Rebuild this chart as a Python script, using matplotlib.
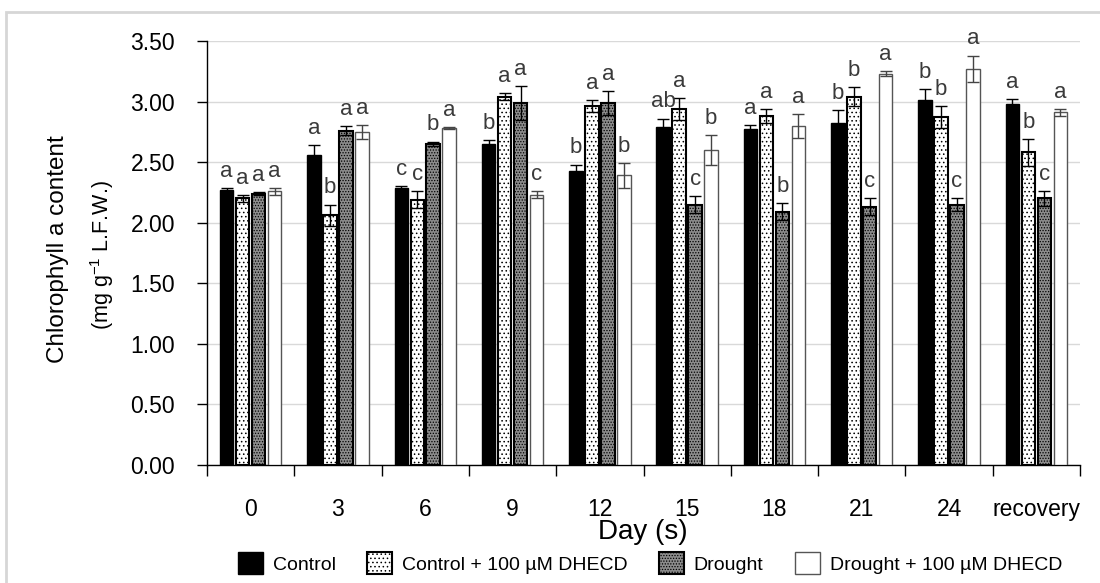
import matplotlib
matplotlib.use("Agg")
import matplotlib.pyplot as plt
import numpy as np
from matplotlib.patches import Rectangle, Patch

plt.rcParams['font.family'] = ['Liberation Sans', 'DejaVu Sans']
plt.rcParams['mathtext.fontset'] = 'custom'
plt.rcParams['mathtext.rm'] = 'Liberation Sans'
plt.rcParams['hatch.linewidth'] = 0.6

categories = ['0', '3', '6', '9', '12', '15', '18', '21', '24', 'recovery']
series_names = ['Control', 'Control + 100 µM DHECD', 'Drought', 'Drought + 100 µM DHECD']

control      = [2.27, 2.56, 2.29, 2.65, 2.43, 2.79, 2.77, 2.82, 3.01, 2.98]
control_dh   = [2.20, 2.06, 2.19, 3.04, 2.96, 2.94, 2.88, 3.04, 2.87, 2.58]
drought      = [2.24, 2.76, 2.65, 2.99, 2.99, 2.15, 2.09, 2.13, 2.15, 2.20]
drought_dh   = [2.26, 2.75, 2.78, 2.23, 2.39, 2.60, 2.80, 3.23, 3.27, 2.91]

control_err    = [0.02, 0.08, 0.01, 0.03, 0.05, 0.07, 0.04, 0.11, 0.09, 0.04]
control_dh_err = [0.03, 0.09, 0.07, 0.03, 0.05, 0.09, 0.06, 0.08, 0.09, 0.11]
drought_err    = [0.01, 0.04, 0.02, 0.14, 0.10, 0.07, 0.07, 0.07, 0.05, 0.06]
drought_dh_err = [0.03, 0.06, 0.01, 0.03, 0.10, 0.12, 0.10, 0.02, 0.11, 0.03]

control_let    = ['a', 'a', 'c', 'b', 'b', 'ab', 'a', 'b', 'b', 'a']
control_dh_let = ['a', 'b', 'c', 'a', 'a', 'a', 'a', 'b', 'b', 'b']
drought_let    = ['a', 'a', 'b', 'a', 'a', 'c', 'b', 'c', 'c', 'c']
drought_dh_let = ['a', 'a', 'a', 'c', 'b', 'b', 'a', 'a', 'a', 'a']

yticks = [0.0, 0.5, 1.0, 1.5, 2.0, 2.5, 3.0, 3.5]

values = [control, control_dh, drought, drought_dh]
errors = [control_err, control_dh_err, drought_err, drought_dh_err]
letters = [control_let, control_dh_let, drought_let, drought_dh_let]

styles = [
    dict(facecolor='black', edgecolor='black', hatch=None, linewidth=1.0),
    dict(facecolor='white', edgecolor='black', hatch='....', linewidth=1.5),
    dict(facecolor='#8c8c8c', edgecolor='black', hatch='......', linewidth=1.5),
    dict(facecolor='white', edgecolor='#555555', hatch=None, linewidth=1.0),
]
err_colors = ['black', 'black', 'black', '#444444']

fig = plt.figure(figsize=(11, 5.83), dpi=100)
ax = fig.add_axes([0.1882, 0.2024, 0.7936, 0.7273])

x = np.arange(len(categories))
step = 0.183
width = 0.155
for i in range(4):
    pos = x + (i - 1.5) * step
    ax.bar(pos, values[i], width=width, zorder=3, **styles[i])
    ax.errorbar(pos, values[i], yerr=errors[i], fmt='none', ecolor=err_colors[i],
                elinewidth=1.0, capsize=4, capthick=1.0, zorder=4)
    for p, v, e, l in zip(pos, values[i], errors[i], letters[i]):
        ax.text(p, v + e + 0.05, l, ha='center', va='bottom', fontsize=16,
                color='#3a3a3a', zorder=5)

ax.set_ylim(0, 3.5)
ax.set_xlim(-0.5, len(categories) - 0.5)
ax.set_yticks(yticks)
ax.set_yticklabels([f'{t:.2f}' for t in yticks], fontsize=16.5)
ax.yaxis.grid(True, color='#d9d9d9', linewidth=1.0, zorder=0)
ax.set_axisbelow(True)

ax.set_xticks(np.arange(len(categories) + 1) - 0.5)
ax.set_xticklabels([])
ax.set_xticks(x, minor=True)
ax.set_xticklabels(categories, minor=True, fontsize=16.5)
ax.tick_params(axis='x', which='major', direction='out', length=8, width=1)
ax.tick_params(axis='x', which='minor', length=0, pad=24)
ax.tick_params(axis='y', direction='out', length=7, width=1, pad=16)

for s in ['top', 'right']:
    ax.spines[s].set_visible(False)
for s in ['left', 'bottom']:
    ax.spines[s].set_linewidth(1.0)

fig.text(58 / 1100, 1 - 249 / 583, 'Chlorophyll a content', rotation=90,
         ha='center', va='center', fontsize=17.5)
fig.text(102 / 1100, 1 - 255 / 583, '(mg g$^{-1}$ L.F.W.)', rotation=90,
         ha='center', va='center', fontsize=15.5)
fig.text(643 / 1100, 1 - 532 / 583, 'Day (s)', ha='center', va='center', fontsize=20)

handles = [Patch(**styles[i]) for i in range(4)]
fig.legend(handles, series_names, loc='center', bbox_to_anchor=(650 / 1100, 1 - 563 / 583),
           ncol=4, frameon=False, fontsize=14, handlelength=1.3, handleheight=1.3,
           handletextpad=0.5, columnspacing=1.6, borderaxespad=0)

fig.patches.append(Rectangle((6 / 1100, -0.1), 1.2, 1 - 12 / 583 + 0.1,
                             transform=fig.transFigure, fill=False,
                             edgecolor='#d6d6d6', linewidth=2.0))

fig.savefig('out.png', dpi=100)
